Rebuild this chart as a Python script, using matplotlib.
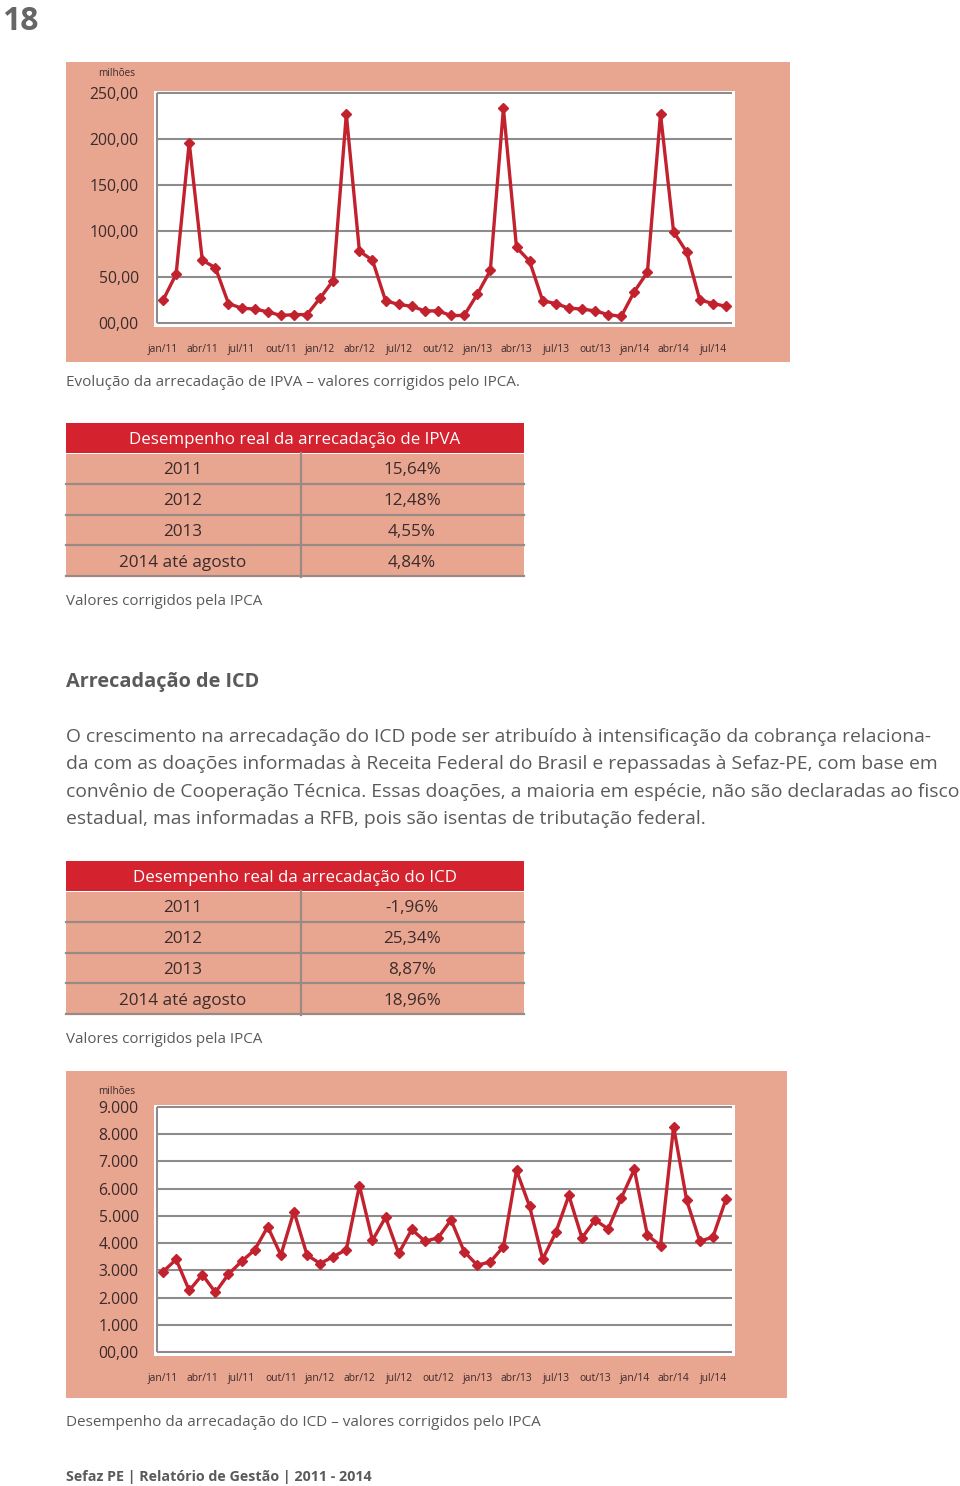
import numpy as np
import matplotlib
matplotlib.use('Agg')
import matplotlib.pyplot as plt
from matplotlib.patches import Rectangle

plt.rcParams['font.family'] = ['Open Sans', 'DejaVu Sans']

# IPVA monthly revenue (milhões), jan/11 .. ago/14
ipva = [24.6, 53, 196, 68, 60, 21, 16, 15, 12, 8,
        9, 9, 27, 46, 227, 78, 68, 24, 20, 18,
        13, 13, 8, 8, 31, 57, 233, 82, 67, 24,
        21, 16, 15, 13, 9, 7, 34, 55, 227, 99,
        77, 25, 21, 18]
# ICD monthly revenue, jan/11 .. ago/14
icd = [2950, 3400, 2260, 2840, 2190, 2860, 3330, 3750, 4600, 3560,
       5160, 3560, 3250, 3500, 3760, 6110, 4100, 4950, 3620, 4500,
       4070, 4190, 4850, 3690, 3190, 3310, 3870, 6670, 5350, 3410,
       4390, 5750, 4190, 4850, 4520, 5650, 6710, 4290, 3910, 8280,
       5570, 4070, 4220, 5610]
month_labels = ['jan/11', 'abr/11', 'jul/11', 'out/11', 'jan/12', 'abr/12', 'jul/12',
                'out/12', 'jan/13', 'abr/13', 'jul/13', 'out/13', 'jan/14', 'abr/14', 'jul/14']

ipva_ticks = [0, 50, 100, 150, 200, 250]
ipva_ticklabels = ['00,00', '50,00', '100,00', '150,00', '200,00', '250,00']
icd_ticks = [0, 1000, 2000, 3000, 4000, 5000, 6000, 7000, 8000, 9000]
icd_ticklabels = ['00,00', '1.000', '2.000', '3.000', '4.000', '5.000', '6.000', '7.000', '8.000', '9.000']

ipva_rows = ['2011', '2012', '2013', '2014 até agosto']
ipva_vals = ['15,64%', '12,48%', '4,55%', '4,84%']
icd_rows = ['2011', '2012', '2013', '2014 até agosto']
icd_vals = ['-1,96%', '25,34%', '8,87%', '18,96%']

paragraph = ['O crescimento na arrecadação do ICD pode ser atribuído à intensificação da cobrança relaciona-',
             'da com as doações informadas à Receita Federal do Brasil e repassadas à Sefaz-PE, com base em',
             'convênio de Cooperação Técnica. Essas doações, a maioria em espécie, não são declaradas ao fisco',
             'estadual, mas informadas a RFB, pois são isentas de tributação federal.']

SALMON = '#e8a590'
RED = '#c1222e'
HEAD = '#d4232f'
GRID = '#8c8c8c'
TXT = '#5a5a5a'
DARK = '#3b2b2b'

W, H = 960, 1486
fig = plt.figure(figsize=(W / 100, H / 100), dpi=100)
fig.patch.set_facecolor('white')

page = fig.add_axes([0, 0, 1, 1])
page.set_xlim(0, W)
page.set_ylim(H, 0)
page.axis('off')


def px_axes(left, top, right, bottom):
  return fig.add_axes([left / W, 1 - bottom / H, (right - left) / W, (bottom - top) / H])


def draw_table(top, title, rows, vals):
  page.add_patch(Rectangle((66, top), 458, 30, facecolor=HEAD, edgecolor='none'))
  page.text(295, top + 16.5, title, ha='center', va='center', color='white', fontsize=12.2)
  for i, (r, v) in enumerate(zip(rows, vals)):
    y0 = top + 31 + i * 30.8
    page.add_patch(Rectangle((66, y0), 458, 29, facecolor=SALMON, edgecolor='none'))
    page.text(183, y0 + 16.5, r, ha='center', va='center', color=DARK, fontsize=12.3)
    page.text(412, y0 + 16.5, v, ha='center', va='center', color=DARK, fontsize=12.3)
    page.plot([66, 524], [y0 + 29.8, y0 + 29.8], color='#9a8a86', lw=1.6)
  page.plot([301, 301], [top + 30, top + 154], color='#9a8a86', lw=1.6)


def draw_chart(panel, box, values, ticks, ticklabels, ylim, milhoes_y):
  pl, pt, pr, pb = panel
  page.add_patch(Rectangle((pl, pt), pr - pl, pb - pt, facecolor=SALMON, edgecolor='none'))
  page.text(117, milhoes_y, 'milhões', ha='center', va='center', color=DARK, fontsize=7.2)
  ax = px_axes(*box)
  ax.set_facecolor('white')
  x = np.arange(len(values))
  ax.set_xlim(-0.69, len(values) - 1 + 0.69)
  ax.set_ylim(*ylim)
  ax.hlines(ticks, -0.46, len(values) - 1 + 0.46, colors=GRID, lw=1.5, zorder=1)
  ax.vlines(-0.46, ticks[0], ticks[-1], colors=GRID, lw=1.5, zorder=1)
  ax.plot(x, values, color=RED, lw=2.4, marker='D', markersize=4.8, zorder=3)
  for s in ax.spines.values():
    s.set_visible(False)
  ax.set_yticks(ticks)
  ax.set_yticklabels(ticklabels, fontsize=11.3, color=DARK)
  ax.set_xticks(np.arange(0, len(values), 3))
  ax.set_xticklabels(month_labels, fontsize=7.4, color=DARK)
  ax.tick_params(axis='y', length=0, pad=11)
  ax.tick_params(axis='x', length=0, pad=12)
  return ax


# page number
page.text(2, 21, '18', ha='left', va='center', fontsize=23, fontweight='bold', color='#666666')

# IPVA chart
draw_chart((66, 62, 790, 362), (154, 91, 735, 327), ipva, ipva_ticks, ipva_ticklabels,
           (-4.5, 252), 74)
page.text(66, 382.5, 'Evolução da arrecadação de IPVA – valores corrigidos pelo IPCA.',
          ha='left', va='center', fontsize=11, color=TXT)

draw_table(423, 'Desempenho real da arrecadação de IPVA', ipva_rows, ipva_vals)
page.text(66, 601.5, 'Valores corrigidos pela IPCA', ha='left', va='center', fontsize=10.9, color=TXT)

page.text(66, 682, 'Arrecadação de ICD', ha='left', va='center', fontsize=14.3,
          fontweight='bold', color=TXT)
for i, line in enumerate(paragraph):
  page.text(66, 737 + i * 27.4, line, ha='left', va='center', fontsize=13.9, color=TXT)

draw_table(861, 'Desempenho real da arrecadação do ICD', icd_rows, icd_vals)
page.text(66, 1039.5, 'Valores corrigidos pela IPCA', ha='left', va='center', fontsize=10.9, color=TXT)

# ICD chart
draw_chart((66, 1071, 787, 1398), (154, 1105, 735, 1356), icd, icd_ticks, icd_ticklabels,
           (-147, 9073), 1092)
page.text(66, 1422.5, 'Desempenho da arrecadação do ICD – valores corrigidos pelo IPCA',
          ha='left', va='center', fontsize=11, color=TXT)

page.text(66, 1477.5, 'Sefaz PE | Relatório de Gestão | 2011 - 2014', ha='left', va='center',
          fontsize=10.3, fontweight='bold', color=TXT)

fig.savefig('out.png', dpi=100, facecolor='white')
